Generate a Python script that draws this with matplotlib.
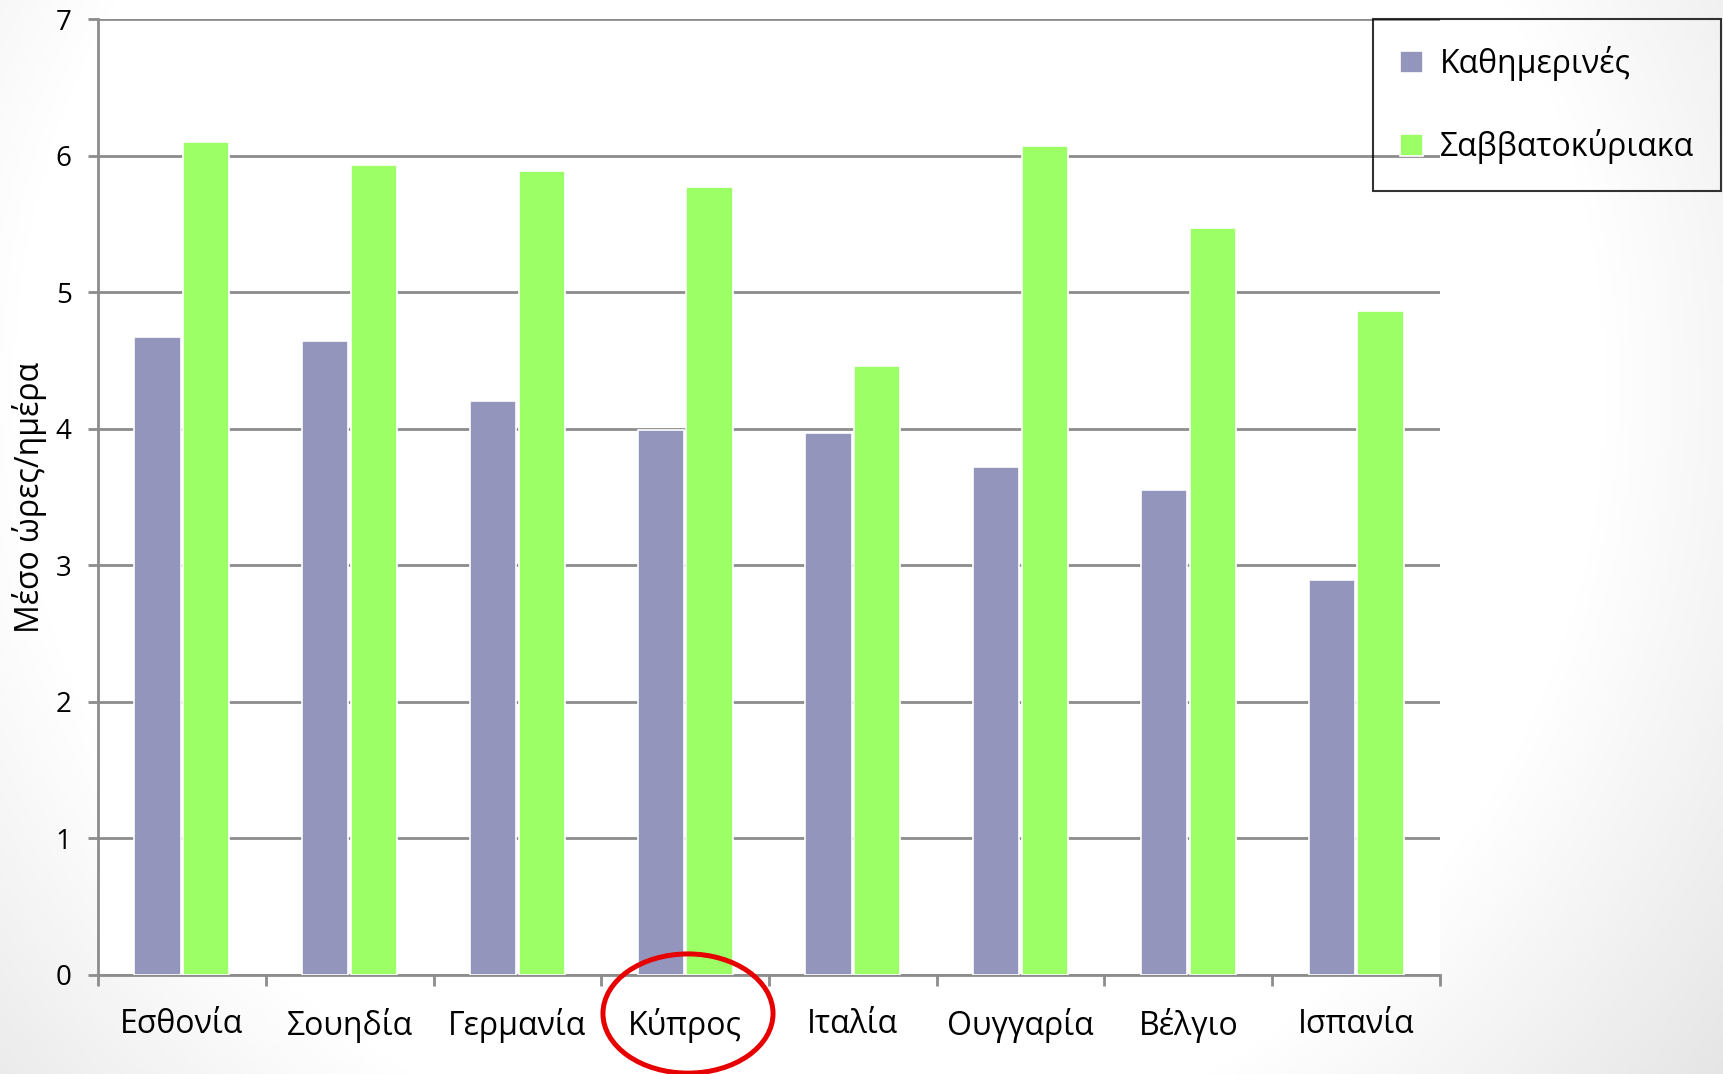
import numpy as np
import matplotlib
matplotlib.use('Agg')
import matplotlib.pyplot as plt
from matplotlib.patches import Ellipse

countries = ['Εσθονία', 'Σουηδία', 'Γερμανία', 'Κύπρος', 'Ιταλία', 'Ουγγαρία', 'Βέλγιο', 'Ισπανία']
weekdays = [4.67, 4.64, 4.20, 3.99, 3.97, 3.72, 3.55, 2.89]
weekends = [6.10, 5.93, 5.89, 5.77, 4.46, 6.07, 5.47, 4.86]
series_names = ['Καθημερινές', 'Σαββατοκύριακα']
yticks = [0, 1, 2, 3, 4, 5, 6, 7]

purple = '#9395BD'
green = '#9CFF66'
grid_grey = '#8C8C8C'

plt.rcParams['font.family'] = ['Open Sans', 'DejaVu Sans']
plt.rcParams['text.color'] = 'black'

fig = plt.figure(figsize=(17.23, 10.74), dpi=100)

# slide background: white in the middle, fading to light grey at the edges
bg = fig.add_axes([0, 0, 1, 1], zorder=-10)
yy, xx = np.mgrid[0:1:300j, 0:1:480j]
d = np.sqrt(((xx - 0.47) * 1.6) ** 2 + ((yy - 0.64) * 1.0) ** 2)
shade = 1 - 0.14 * np.clip((d - 0.74) / 0.45, 0, 1)
bg.imshow(np.dstack([shade] * 3), extent=[0, 1, 0, 1], origin='lower', aspect='auto')
bg.axis('off')

ax = fig.add_axes([0.0569, 0.0922, 0.7788, 0.8901])
ax.set_facecolor('white')

x = np.arange(len(countries))
w = 0.275
ax.bar(x - w / 2 - 0.008, weekdays, w, color=purple, edgecolor='white', linewidth=1.2,
       label=series_names[0], zorder=3)
ax.bar(x + w / 2 + 0.008, weekends, w, color=green, edgecolor='white', linewidth=1.2,
       label=series_names[1], zorder=3)

ax.set_xlim(-0.5, len(countries) - 0.5)
ax.set_ylim(0, 7)
ax.set_yticks(yticks)
ax.yaxis.grid(True, color=grid_grey, linewidth=2)
ax.set_axisbelow(True)

ax.set_xticks(x)
ax.set_xticklabels(countries, fontsize=23)
ax.set_xticks(np.arange(len(countries) + 1) - 0.5, minor=True)
ax.tick_params(axis='x', which='major', length=0, pad=24)
ax.tick_params(axis='x', which='minor', length=8, width=2, color=grid_grey)
ax.tick_params(axis='y', length=7, width=2, color=grid_grey, labelsize=20, pad=12)

for side in ['top', 'right']:
    ax.spines[side].set_visible(False)
for side in ['left', 'bottom']:
    ax.spines[side].set_color(grid_grey)
    ax.spines[side].set_linewidth(2)

ax.set_ylabel('Μέσο ώρες/ημέρα', fontsize=23, labelpad=6)

leg = ax.legend(loc='upper left', bbox_to_anchor=(0.7969, 0.9823), bbox_transform=fig.transFigure,
                fontsize=23, frameon=True, fancybox=False,
                edgecolor='black', handlelength=0.7, handleheight=0.7, handletextpad=0.55,
                labelspacing=1.5, borderpad=0.85, borderaxespad=0)
leg.get_frame().set_facecolor('none')
leg.get_frame().set_linewidth(1.5)

# red ring around Cyprus
ring = Ellipse((0.3993, 0.0563), 0.0987, 0.1110, transform=fig.transFigure,
               fill=False, edgecolor='#E60000', linewidth=3.6, zorder=20)
fig.patches.append(ring)

fig.savefig('out.png', dpi=100)
